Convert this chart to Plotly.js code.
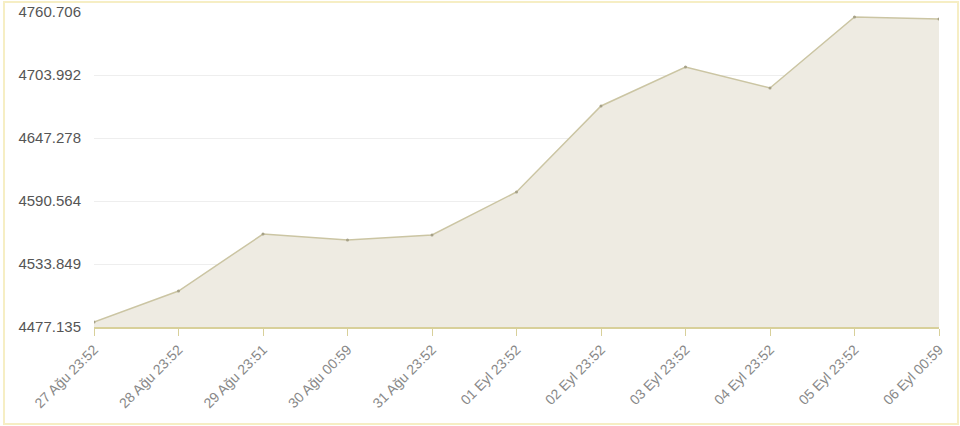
<!DOCTYPE html>
<html>
<head>
<meta charset="utf-8">
<script src="https://cdn.plot.ly/plotly-3.0.1.min.js"></script>
<style>
html,body{margin:0;padding:0;background:#fff;}
#wrap{position:relative;width:960px;height:426px;}
#frame{position:absolute;left:3px;top:1px;width:952px;height:420px;border:2px solid #f6eec4;pointer-events:none;z-index:5;}
#chart{position:absolute;left:0;top:0;width:960px;height:426px;}
</style>
</head>
<body>
<div id="wrap"><div id="chart"></div><div id="frame"></div></div>
<script>
var categories = ["27 Ağu 23:52","28 Ağu 23:52","29 Ağu 23:51","30 Ağu 00:59","31 Ağu 23:52","01 Eyl 23:52","02 Eyl 23:52","03 Eyl 23:52","04 Eyl 23:52","05 Eyl 23:52","06 Eyl 00:59"];
var values = [4481.6, 4509.5, 4560.8, 4555.5, 4560.0, 4598.7, 4676.1, 4711.2, 4692.3, 4756.2, 4754.4];
var yTicks = [4477.135, 4533.849, 4590.564, 4647.278, 4703.992, 4760.706];
var yTickLabels = ["4477.135","4533.849","4590.564","4647.278","4703.992","4760.706"];

var trace = {
  x: categories,
  y: values,
  type: 'scatter',
  mode: 'lines+markers',
  fill: 'tozeroy',
  fillcolor: 'rgba(238,235,226,1)',
  line: {color: '#cbc5a3', width: 1.5},
  marker: {color: '#a6a187', size: 3},
  hoverinfo: 'x+y'
};

var layout = {
  width: 960, height: 426,
  margin: {l: 94, r: 21, t: 12, b: 99},
  paper_bgcolor: '#fff',
  plot_bgcolor: '#fff',
  showlegend: false,
  font: {family: 'Liberation Sans, Arial, sans-serif'},
  xaxis: {
    type: 'category',
    range: [0, categories.length - 1],
    showgrid: false,
    showline: true,
    linecolor: '#d8d09a',
    linewidth: 2,
    ticks: 'outside',
    ticklen: 7,
    tickcolor: '#d8d09a',
    tickwidth: 1,
    tickangle: -45,
    tickfont: {size: 14, color: '#888888'},
    zeroline: false,
    fixedrange: true
  },
  yaxis: {
    range: [yTicks[0], yTicks[yTicks.length - 1]],
    tickvals: yTicks,
    ticktext: yTickLabels,
    showgrid: true,
    gridcolor: '#eeeeee',
    gridwidth: 1,
    showline: false,
    zeroline: false,
    ticks: '',
    ticklabelstandoff: 12,
    tickfont: {size: 15, color: '#555555'},
    fixedrange: true
  }
};

Plotly.newPlot('chart', [trace], layout, {displayModeBar: false});
</script>
</body>
</html>
